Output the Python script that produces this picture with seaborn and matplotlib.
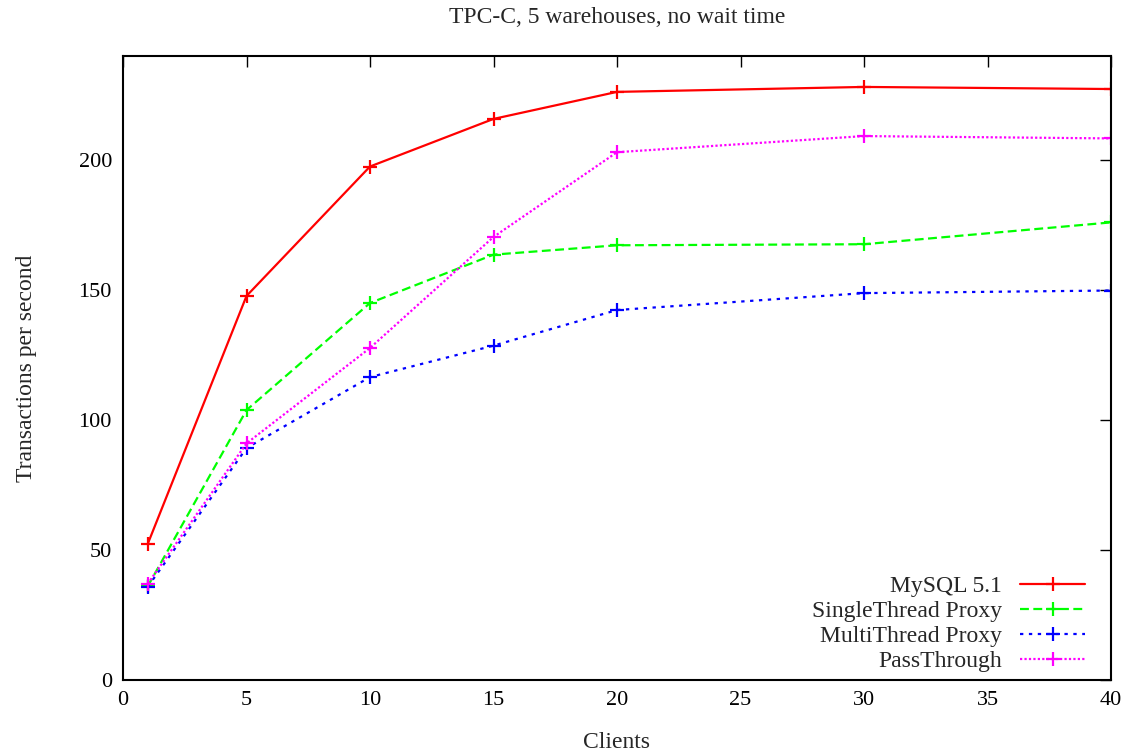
import pandas as pd
import matplotlib
matplotlib.use('Agg')
import matplotlib.pyplot as plt
import seaborn as sns

# Dados
clients = [1, 5, 10, 15, 20, 30, 40]
mysql = [52.3, 147.7, 197.5, 215.8, 226.2, 228.1, 227.3]
single_thread = [36.0, 103.8, 145.0, 163.6, 167.2, 167.6, 176.0]
multi_thread = [35.8, 89.2, 116.5, 128.6, 142.3, 148.8, 149.8]
pass_through = [37.0, 91.0, 127.7, 170.4, 203.0, 209.2, 208.3]

series_names = ['MySQL 5.1', 'SingleThread Proxy', 'MultiThread Proxy', 'PassThrough']
series_values = [mysql, single_thread, multi_thread, pass_through]
colors = ['#ff0000', '#00ff00', '#0000ff', '#ff00ff']
dashes = [None, (4, 2), (1.5, 2.5), (1, 1)]

rows = []
for name, vals in zip(series_names, series_values):
    for c, v in zip(clients, vals):
        rows.append({'Clients': c, 'tps': v, 'serie': name})
df = pd.DataFrame(rows)

sns.set_style('white')
plt.rcParams['font.family'] = ['Liberation Serif', 'DejaVu Serif']

fig = plt.figure(figsize=(11.31, 7.55), dpi=100)
ax = fig.add_axes([123 / 1131, 1 - 680 / 755, (1111 - 123) / 1131, (680 - 56) / 755])

for name, col, d in zip(series_names, colors, dashes):
    sub = df[df['serie'] == name]
    sns.lineplot(data=sub, x='Clients', y='tps', ax=ax, color=col, marker='+',
                 markersize=10, markeredgewidth=1.6, markeredgecolor=col,
                 linewidth=1.6, label=name)
    l = ax.get_lines()[-1]
    if d is not None:
        l.set_dashes(d)

ax.set_xlim(0, 40)
ax.set_ylim(0, 240)
ax.set_xticks(range(0, 41, 5))
ax.set_yticks(range(0, 201, 50))
ax.tick_params(direction='in', length=8, width=1, top=True, right=True, labelsize=16, pad=8, colors='black')
for s in ax.spines.values():
    s.set_linewidth(1.5)
    s.set_color('black')

ax.set_xlabel('Clients', fontsize=17, labelpad=16)
ax.set_ylabel('Transactions per second', fontsize=17, labelpad=30)
ax.set_title('TPC-C, 5 warehouses, no wait time', fontsize=17, pad=24)

leg = ax.legend(loc='lower right', frameon=False, fontsize=17, markerfirst=False,
                handlelength=2.75, handletextpad=0.75, labelspacing=0.15,
                borderaxespad=0, borderpad=0,
                bbox_to_anchor=(1085 / 1131, 1 - 672 / 755), bbox_transform=fig.transFigure)

fig.savefig('out.png', dpi=100)
